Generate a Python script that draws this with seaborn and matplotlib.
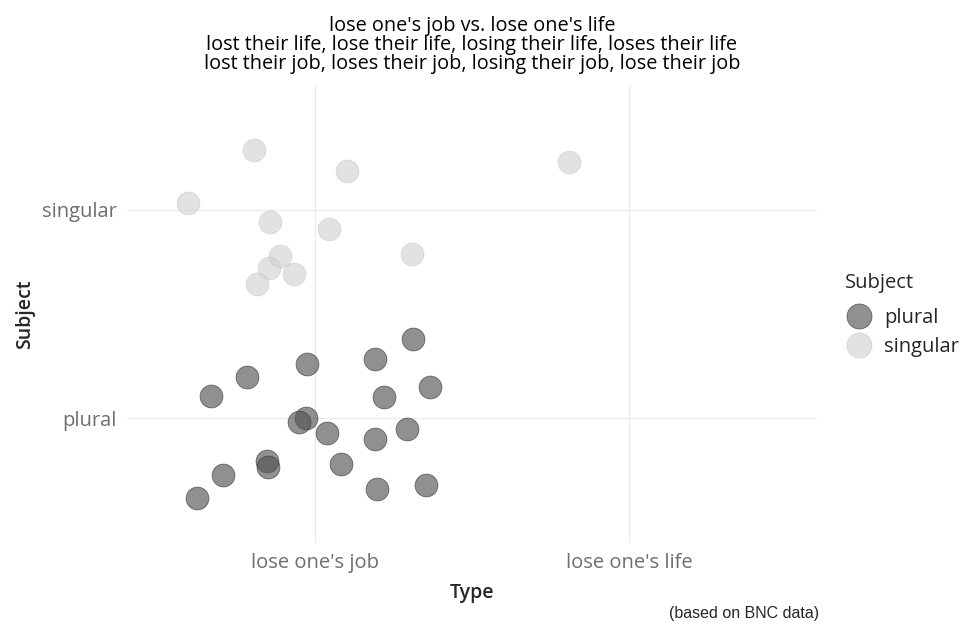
import seaborn as sns
import matplotlib.pyplot as plt
import pandas as pd
from matplotlib.lines import Line2D

# categories
types = ["lose one's job", "lose one's life"]
subjects = ["plural", "singular"]

obs_type = ["lose one's job"] * 19 + ["lose one's job"] * 10 + ["lose one's life"]
obs_subject = ["plural"] * 19 + ["singular"] * 11
x_jitter = [0.312, -0.025, 0.191, -0.217, -0.331, 0.220, 0.366, -0.029, -0.051, 0.038,
            0.191, 0.293, -0.153, -0.150, -0.293, 0.083, -0.376, 0.197, 0.354,
            -0.194, 0.102, -0.404, -0.143, 0.045, 0.309, -0.111, -0.146, -0.067, -0.185,
            -0.191]
y_jitter = [0.380, 0.260, 0.284, 0.197, 0.106, 0.101, 0.149, 0.000, -0.019, -0.072,
            -0.101, -0.053, -0.207, -0.236, -0.274, -0.221, -0.385, -0.341, -0.322,
            0.288, 0.188, 0.034, -0.058, -0.091, -0.212, -0.221, -0.279, -0.308, -0.356,
            0.231]

df = pd.DataFrame({"Type": obs_type, "Subject": obs_subject})
df["x"] = df["Type"].map({t: i + 1 for i, t in enumerate(types)}) + x_jitter
df["y"] = df["Subject"].map({s: i + 1 for i, s in enumerate(subjects)}) + y_jitter

colors = {"plural": "#555555", "singular": "#cfcfcf"}
edges = {"plural": "#333333", "singular": "#c8c8c8"}
alphas = {"plural": 0.65, "singular": 0.6}

sns.set_style("white")
plt.rcParams["font.family"] = ["Open Sans", "DejaVu Sans"]

fig = plt.figure(figsize=(9.67, 6.23), dpi=100)
ax = fig.add_axes([0.131, 0.128, 0.714, 0.736])

for s in subjects:
    sns.scatterplot(data=df[df["Subject"] == s], x="x", y="y", color=colors[s],
                    alpha=alphas[s], s=270, edgecolor=edges[s],
                    linewidth=0.6, ax=ax, legend=False, zorder=3)

ax.set_xlim(0.4, 2.6)
ax.set_ylim(0.4, 2.6)
ax.set_xticks([1, 2])
ax.set_xticklabels(types, fontsize=14.5, color="#6e6e6e")
ax.set_yticks([1, 2])
ax.set_yticklabels(subjects, fontsize=14.5, color="#6e6e6e")
ax.tick_params(length=0, pad=7)
ax.grid(True, color="#ebebeb", linewidth=1)
ax.set_axisbelow(True)
for sp in ax.spines.values():
    sp.set_visible(False)
ax.set_xlabel("Type", fontsize=14, fontweight="semibold", labelpad=7)
ax.set_ylabel("Subject", fontsize=14, fontweight="semibold", labelpad=5)

fig.text(0.488, 0.974,
         "lose one's job vs. lose one's life\n"
         "lost their life, lose their life, losing their life, loses their life\n"
         "lost their job, loses their job, losing their job, lose their job",
         ha="center", va="top", fontsize=14.3, linespacing=0.92, color="black")
fig.text(0.847, 0.004, "(based on BNC data)", ha="right", va="bottom", fontsize=11.5,
         family=["Liberation Sans", "DejaVu Sans"])

handles = [Line2D([], [], marker="o", linestyle="", markersize=18,
                  markerfacecolor=colors[s], alpha=alphas[s],
                  markeredgecolor=edges[s], markeredgewidth=0.6) for s in subjects]
leg = fig.legend(handles, subjects, title="Subject", loc="upper left",
                 bbox_to_anchor=(0.874, 0.562), frameon=False, fontsize=14.5,
                 title_fontsize=14.5, handletextpad=0.55, labelspacing=0.42,
                 borderaxespad=0.0, borderpad=0.0, alignment="left", handlelength=1.4)
# a bit more room between legend title and keys
leg._legend_box.sep = 11

fig.savefig("out.png", dpi=100)
